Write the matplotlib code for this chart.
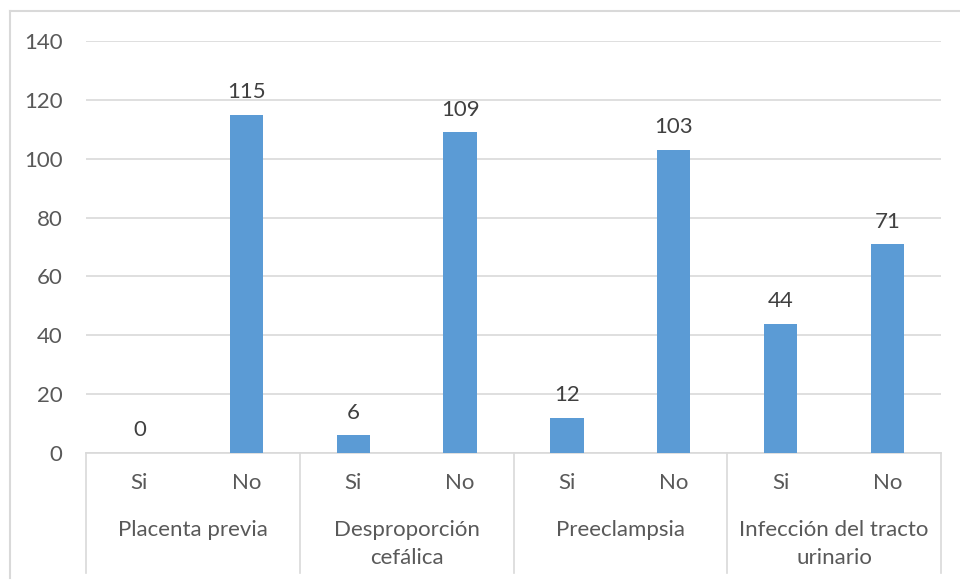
import numpy as np
import matplotlib
matplotlib.use("Agg")
from matplotlib import pyplot as plt
from matplotlib.lines import Line2D

# counts per complication, split into Si / No
groups = ["Placenta previa", "Desproporción\ncefálica", "Preeclampsia", "Infección del tracto\nurinario"]
answers = ["Si", "No"]
si_values = [0, 6, 12, 44]
no_values = [115, 109, 103, 71]

plt.rcParams['font.family'] = ['Lato', 'DejaVu Sans']

W, H = 960, 580
fs = 16
fig = plt.figure(figsize=(W / 100, H / 100), dpi=100)

# plot area in pixels (left, top, right, bottom)
px_l, px_t, px_r, px_b = 86, 41, 941, 453
ax = fig.add_axes([px_l / W, 1 - px_b / H, (px_r - px_l) / W, (px_b - px_t) / H])

blue = '#5B9BD5'
gray = '#D9D9D9'
txt = '#595959'

values = []
for s, n in zip(si_values, no_values):
    values += [s, n]
x = np.arange(len(values))
bars = ax.bar(x, values, width=0.31, color=blue, zorder=3)

for xi, v in zip(x, values):
    ax.annotate(str(v), (xi, v), xytext=(0, 9), textcoords='offset points',
                ha='center', va='bottom', fontsize=fs, color='#404040')

ax.set_xlim(-0.5, len(values) - 0.5)
ax.set_ylim(0, 140)
ax.set_yticks(np.arange(0, 141, 20))
ax.yaxis.grid(True, color=gray, lw=1.2, zorder=0)
ax.tick_params(axis='y', length=0, pad=17, labelsize=fs, labelcolor=txt)
ax.set_xticks([])
for side in ['top', 'right', 'left']:
    ax.spines[side].set_visible(False)
ax.spines['bottom'].set_color(gray)
ax.spines['bottom'].set_linewidth(1.2)


def fig_y(py):
    return 1 - py / H


# two-level category labels below the axis
for xi in x:
    xf = ax.transData.transform((xi, 0))[0] / W
    fig.text(xf, fig_y(483), answers[xi % 2], ha='center', va='center',
             fontsize=fs, color=txt)
for gi, g in enumerate(groups):
    xf = (px_l + (gi + 0.5) * (px_r - px_l) / len(groups)) / W
    for k, line in enumerate(g.split('\n')):
        fig.text(xf, fig_y(530 + 28 * k), line, ha='center', va='center',
                 fontsize=fs, color=txt)

# group separators running from the axis down
for gi in range(len(groups) + 1):
    xs = px_l + gi * (px_r - px_l) / len(groups)
    fig.add_artist(Line2D([xs / W, xs / W], [fig_y(px_b), fig_y(573)],
                          color=gray, lw=1.2))

# chart border
fig.add_artist(Line2D([10 / W, 1], [fig_y(11), fig_y(11)], color=gray, lw=1.5))
fig.add_artist(Line2D([10 / W, 10 / W], [fig_y(11), fig_y(578)], color=gray, lw=1.5))

fig.savefig('out.png', dpi=100)
